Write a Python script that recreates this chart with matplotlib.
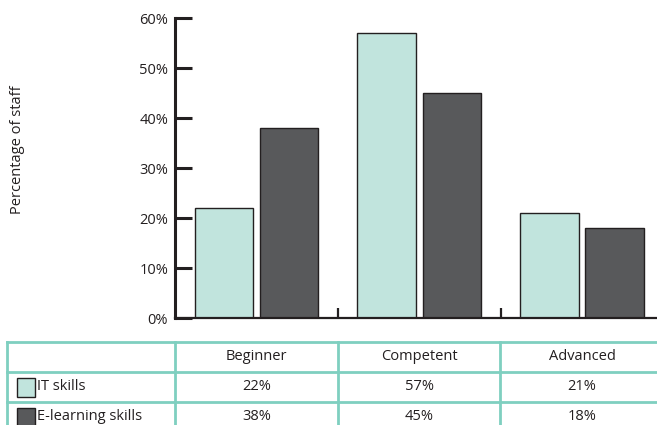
import matplotlib
matplotlib.use("Agg")
import matplotlib.pyplot as plt
import numpy as np

categories = ["Beginner", "Competent", "Advanced"]
series_names = ["IT skills", "E-learning skills"]
it_skills = [22, 57, 21]
elearning_skills = [38, 45, 18]
y_ticks = [0, 10, 20, 30, 40, 50, 60]
y_label = "Percentage of staff"

plt.rcParams['font.family'] = ['Open Sans', 'DejaVu Sans']
TXT = '#231f20'
C_IT = '#c1e4dd'
C_EL = '#58595b'
GRID = '#7fcfc0'
FS = 10.5

W, H = 657, 425
fig = plt.figure(figsize=(W / 100, H / 100), dpi=100)

# main axes in pixel coords: left 175, right 657, top 18 (60%), bottom 318 (0%)
ax = fig.add_axes([175 / W, 1 - 318 / H, (657 - 175) / W, 300 / H])
x = np.arange(len(categories))
ax.bar(x - 0.2, it_skills, width=0.36, color=C_IT, edgecolor=TXT, linewidth=1.0)
ax.bar(x + 0.2, elearning_skills, width=0.36, color=C_EL, edgecolor=TXT, linewidth=1.0)
ax.set_xlim(-0.5, 2.46)
ax.set_ylim(0, 60)
ax.set_yticks(y_ticks)
ax.set_yticklabels([f"{v}%" for v in y_ticks], fontsize=FS, color=TXT)
ax.set_xticks([0.5, 1.5])
ax.set_xticklabels([])
for s in ['top', 'right']:
    ax.spines[s].set_visible(False)
ax.spines['left'].set_linewidth(2.2)
ax.spines['left'].set_color(TXT)
ax.spines['bottom'].set_linewidth(1.6)
ax.spines['bottom'].set_color(TXT)
ax.tick_params(axis='y', direction='in', length=12, width=2.2, color=TXT, pad=5)
ax.tick_params(axis='x', direction='in', length=7, width=1.6, color=TXT)

fig.text(18 / W, 1 - 150 / H, y_label, rotation=90, ha='center', va='center',
         fontsize=FS, color=TXT)

# table overlay in pixel coordinates
tax = fig.add_axes([0, 0, 1, 1])
tax.set_xlim(0, W)
tax.set_ylim(H, 0)
tax.axis('off')

col_edges = [7, 175, 338, 500, 663]
row_edges = [342, 372, 402, 432]
for yy in row_edges:
    tax.plot([col_edges[0], col_edges[-1]], [yy, yy], color=GRID, lw=2, clip_on=False)
for xx in col_edges:
    tax.plot([xx, xx], [row_edges[0], row_edges[-1]], color=GRID, lw=2, clip_on=False)

centers = [(col_edges[i] + col_edges[i + 1]) / 2 for i in range(1, 4)]
centers[-1] = 582
for c, cat in zip(centers, categories):
    tax.text(c, 357, cat, ha='center', va='center', fontsize=FS, color=TXT)

rows = [it_skills, elearning_skills]
colors = [C_IT, C_EL]
for r, (name, vals, col) in enumerate(zip(series_names, rows, colors)):
    yc = (row_edges[r + 1] + row_edges[r + 2]) / 2
    tax.add_patch(plt.Rectangle((17, yc - 9.5), 18, 19, facecolor=col,
                                edgecolor=TXT, lw=1.0))
    tax.text(37, yc, name, ha='left', va='center', fontsize=FS, color=TXT)
    for c, v in zip(centers, vals):
        tax.text(c, yc, f"{v}%", ha='center', va='center', fontsize=FS, color=TXT)

fig.savefig("out.png", dpi=100)
